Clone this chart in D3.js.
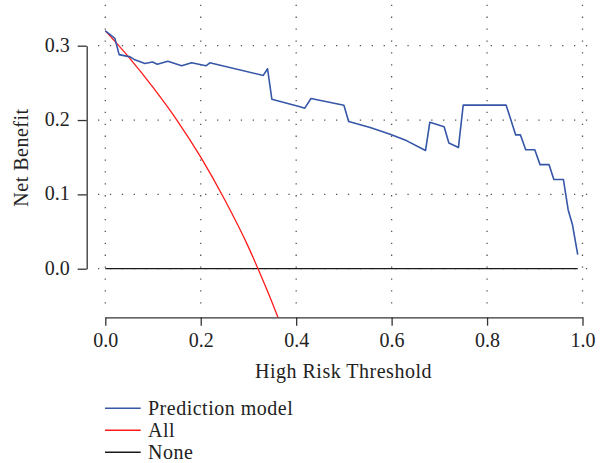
<!DOCTYPE html>
<html>
<head>
<meta charset="utf-8">
<script src="https://cdn.jsdelivr.net/npm/d3@7"></script>
<style>
  body { margin: 0; background: #fff; }
  svg { display: block; font-family: "Liberation Serif", "DejaVu Serif", serif; }
  .axis path, .axis line { stroke: #333; stroke-width: 1.3; }
  .axis text { font-size: 20px; fill: #222; font-family: "Liberation Serif", serif; }
  .label { font-size: 20px; letter-spacing: 0.5px; fill: #222; }
</style>
</head>
<body>
<script>
// decision curve, values
const modelX = [0, 0.020, 0.029, 0.052, 0.062, 0.083, 0.099, 0.109, 0.131, 0.160, 0.181, 0.211, 0.219,
  0.331, 0.340, 0.349, 0.408, 0.418, 0.431, 0.500, 0.510, 0.555, 0.597, 0.632, 0.671, 0.680, 0.710,
  0.720, 0.740, 0.750, 0.840, 0.860, 0.870, 0.881, 0.900, 0.911, 0.930, 0.940, 0.960, 0.970, 0.979, 0.990];
const modelY = [0.320, 0.310, 0.288, 0.285, 0.281, 0.276, 0.278, 0.275, 0.279, 0.273, 0.277, 0.273, 0.277,
  0.260, 0.269, 0.228, 0.218, 0.216, 0.229, 0.220, 0.198, 0.190, 0.181, 0.172, 0.159, 0.197, 0.191,
  0.169, 0.163, 0.220, 0.220, 0.180, 0.180, 0.160, 0.160, 0.140, 0.140, 0.120, 0.120, 0.079, 0.059, 0.019];

const allX = [0, 0.05, 0.10, 0.15, 0.20, 0.25, 0.30, 0.32, 0.35, 0.37];
const allY = [0.320, 0.284, 0.244, 0.200, 0.150, 0.093, 0.029, 0.000, -0.046, -0.079];

const noneX = [0, 0.99];
const noneY = [0, 0];

const xTicks = [0, 0.2, 0.4, 0.6, 0.8, 1.0];
const yTicks = [0, 0.1, 0.2, 0.3];

const seriesNames = ["Prediction model", "All", "None"];
const seriesColors = ["#3656a8", "#ff1a1a", "#1a1a1a"];

const W = 601, H = 463;

const svg = d3.select("body")
  .append("svg")
  .attr("width", W)
  .attr("height", H);

const x = d3.scaleLinear().domain([0, 1]).range([105.3, 582.5]);
const y = d3.scaleLinear().domain([0, 0.3]).range([268.7, 45.7]);

const fmt = d3.format(".1f");

// dotted grid
svg.append("g")
  .selectAll("line")
  .data(xTicks)
  .enter()
  .append("line")
  .attr("x1", d => x(d))
  .attr("x2", d => x(d))
  .attr("y1", 4.7)
  .attr("y2", 310)
  .attr("stroke", "#555")
  .attr("stroke-width", 1.3)
  .attr("stroke-dasharray", "1.3,10.6");

svg.append("g")
  .selectAll("line")
  .data(yTicks)
  .enter()
  .append("line")
  .attr("x1", 98)
  .attr("x2", 593)
  .attr("y1", d => y(d))
  .attr("y2", d => y(d))
  .attr("stroke", "#555")
  .attr("stroke-width", 1.3)
  .attr("stroke-dasharray", "1.3,10.6");

svg.append("clipPath")
  .attr("id", "plot-clip")
  .append("rect")
  .attr("x", 95)
  .attr("y", 0)
  .attr("width", 500)
  .attr("height", 317.3);

const line = d3.line()
  .x(d => x(d[0]))
  .y(d => y(d[1]));

const curve = d3.line()
  .x(d => x(d[0]))
  .y(d => y(d[1]))
  .curve(d3.curveMonotoneX);

const plot = svg.append("g").attr("clip-path", "url(#plot-clip)");

plot.append("path")
  .datum(noneX.map((v, i) => [v, noneY[i]]))
  .attr("d", line)
  .attr("fill", "none")
  .attr("stroke", seriesColors[2])
  .attr("stroke-width", 1.3);

plot.append("path")
  .datum(allX.map((v, i) => [v, allY[i]]))
  .attr("d", curve)
  .attr("fill", "none")
  .attr("stroke", seriesColors[1])
  .attr("stroke-width", 1.3);

plot.append("path")
  .datum(modelX.map((v, i) => [v, modelY[i]]))
  .attr("d", line)
  .attr("fill", "none")
  .attr("stroke", seriesColors[0])
  .attr("stroke-width", 1.6)
  .attr("stroke-linejoin", "round");

// axes
svg.append("g")
  .attr("class", "axis")
  .attr("transform", "translate(86.7,0)")
  .call(d3.axisLeft(y).tickValues(yTicks).tickFormat(fmt).tickSize(9).tickSizeOuter(0).tickPadding(8))
  .call(g => g.selectAll("text").attr("dy", "0.28em"));

svg.append("g")
  .attr("class", "axis")
  .attr("transform", "translate(0,317.3)")
  .call(d3.axisBottom(x).tickValues(xTicks).tickFormat(fmt).tickSize(8.4).tickSizeOuter(0).tickPadding(7.5));

svg.append("text")
  .attr("class", "label")
  .attr("x", 343.5)
  .attr("y", 378.3)
  .attr("text-anchor", "middle")
  .text("High Risk Threshold");

svg.append("text")
  .attr("class", "label")
  .attr("transform", "translate(28,157.5) rotate(-90)")
  .attr("text-anchor", "middle")
  .text("Net Benefit");

// legend
const legend = svg.append("g")
  .selectAll("g")
  .data(seriesNames)
  .enter()
  .append("g")
  .attr("transform", (d, i) => `translate(0,${408.3 + i * 22})`);

legend.append("line")
  .attr("x1", 105)
  .attr("x2", 140.7)
  .attr("stroke", (d, i) => seriesColors[i])
  .attr("stroke-width", 1.4);

legend.append("text")
  .attr("class", "label")
  .attr("x", 148)
  .attr("y", 7)
  .text(d => d);
</script>
</body>
</html>
